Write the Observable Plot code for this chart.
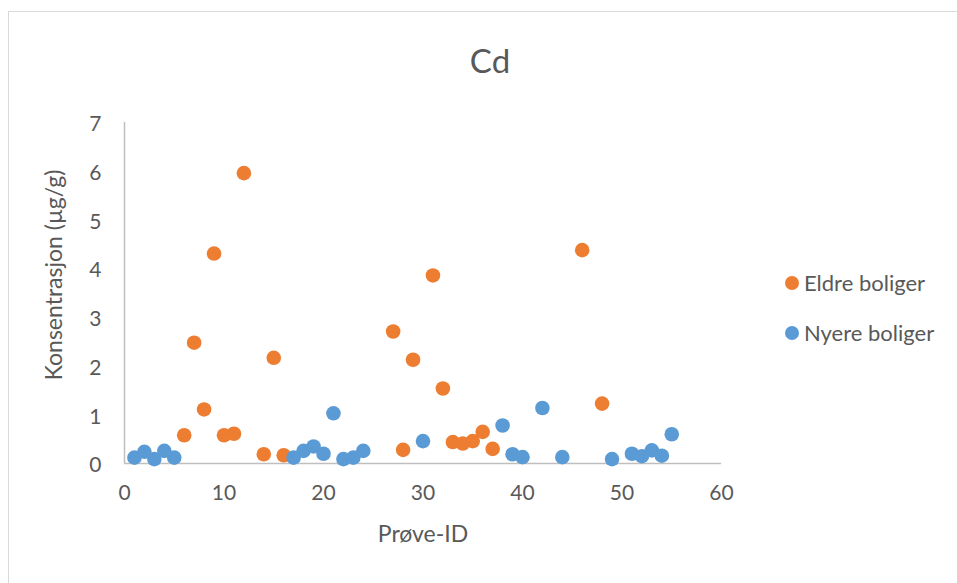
<!DOCTYPE html>
<html>
<head>
<meta charset="utf-8">
<script src="https://cdn.jsdelivr.net/npm/d3@7"></script>
<script src="https://cdn.jsdelivr.net/npm/@observablehq/plot@0.6"></script>
<style>
  html, body { margin: 0; padding: 0; background: #fff; }
  #wrap { position: relative; width: 957px; height: 583px; overflow: hidden; background: #fff; font-family: Lato, "Open Sans", sans-serif; color: #595959; }
  #border { position: absolute; left: 8px; top: 11px; width: 980px; height: 600px; border: 1px solid #d9d9d9; box-sizing: border-box; }
  #chart { position: absolute; left: 0; top: 0; }
  #title { position: absolute; left: 0; width: 980px; top: 40px; text-align: center; font-size: 33px; line-height: 40px; }
  .leg { position: absolute; left: 785px; font-size: 22px; line-height: 26px; display: flex; align-items: center; white-space: nowrap; }
  .sw { display: inline-block; width: 14px; height: 14px; border-radius: 50%; margin-right: 5px; }
</style>
</head>
<body>
<div id="wrap">
  <div id="border"></div>
  <div id="chart"></div>
  <div id="title">Cd</div>
  <div class="leg" id="leg1" style="top:270px"><span class="sw" style="background:#ED7D31"></span>Eldre boliger</div>
  <div class="leg" id="leg2" style="top:320px"><span class="sw" style="background:#5B9BD5"></span>Nyere boliger</div>
</div>
<script>
// Data
const eldreId = [6, 7, 8, 9, 10, 11, 12, 14, 15, 16, 27, 28, 29, 31, 32, 33, 34, 35, 36, 37, 46, 48];
const eldreCd = [0.58, 2.48, 1.11, 4.31, 0.58, 0.61, 5.96, 0.19, 2.17, 0.17, 2.71, 0.28, 2.13, 3.86, 1.54, 0.44, 0.41, 0.46, 0.65, 0.30, 4.38, 1.23];
const nyereId = [1, 2, 3, 4, 5, 17, 18, 19, 20, 21, 22, 23, 24, 30, 38, 39, 40, 42, 44, 49, 51, 52, 53, 54, 55];
const nyereCd = [0.12, 0.24, 0.09, 0.26, 0.12, 0.12, 0.26, 0.35, 0.20, 1.03, 0.09, 0.12, 0.26, 0.46, 0.78, 0.19, 0.13, 1.14, 0.13, 0.09, 0.20, 0.15, 0.27, 0.16, 0.60];
const xTicks = [0, 10, 20, 30, 40, 50, 60];
const yTicks = [0, 1, 2, 3, 4, 5, 6, 7];
const seriesNames = ["Eldre boliger", "Nyere boliger"];
const seriesColors = ["#ED7D31", "#5B9BD5"];
const title = "Cd";
const xLabel = "Prøve-ID";
const yLabel = "Konsentrasjon (µg/g)";

const eldre = eldreId.map((id, i) => ({id, cd: eldreCd[i]}));
const nyere = nyereId.map((id, i) => ({id, cd: nyereCd[i]}));

const font = "Lato, 'Open Sans', sans-serif";
const chart = Plot.plot({
  width: 957,
  height: 583,
  marginLeft: 124,
  marginRight: 236,
  marginTop: 122,
  marginBottom: 120,
  style: {fontFamily: font, fontSize: "21px", color: "#595959", background: "transparent", overflow: "visible"},
  x: {domain: [0, 60], label: null},
  y: {domain: [0, 7], label: null},
  marks: [
    Plot.axisX({ticks: xTicks, tickSize: 0, tickPadding: 22, tickFormat: d3.format("d"), label: null, fill: "#595959", fontSize: 21}),
    Plot.axisY({ticks: yTicks, tickSize: 0, tickPadding: 23, tickFormat: d3.format("d"), label: null, fill: "#595959", fontSize: 21, dy: 2}),
    Plot.ruleX([xTicks[0]], {y1: yTicks[0], y2: yTicks[yTicks.length - 1], stroke: "#bfbfbf", strokeWidth: 1.5}),
    Plot.ruleY([yTicks[0]], {x1: xTicks[0], x2: xTicks[xTicks.length - 1], stroke: "#bfbfbf", strokeWidth: 1.5}),
    Plot.dot(eldre, {x: "id", y: "cd", r: 7.3, fill: seriesColors[0], stroke: "none"}),
    Plot.dot(nyere, {x: "id", y: "cd", r: 7.3, fill: seriesColors[1], stroke: "none"}),
    Plot.text([xLabel], {frameAnchor: "bottom", lineAnchor: "middle", text: d => d, dy: 71, fontSize: 23, fill: "#595959"}),
    Plot.text([yLabel], {frameAnchor: "left", lineAnchor: "middle", textAnchor: "middle", text: d => d, dx: -70, dy: -18, rotate: -90, fontSize: 23, fill: "#595959"})
  ]
});
document.getElementById("chart").appendChild(chart);
</script>
</body>
</html>
